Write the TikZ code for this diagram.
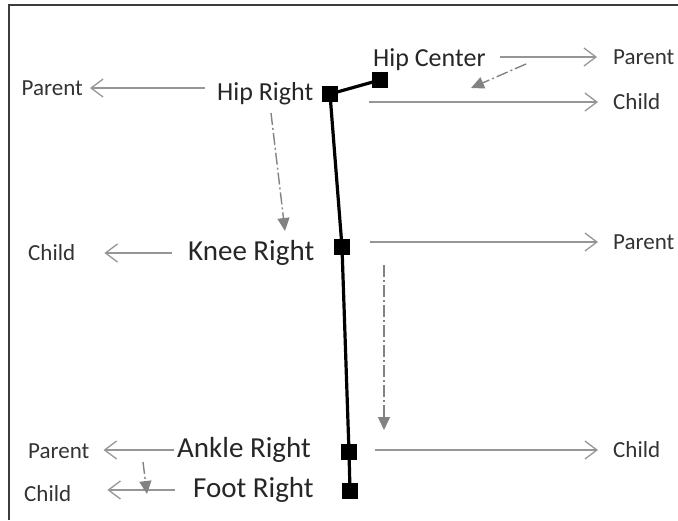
\documentclass[tikz,border=0pt]{standalone}
\usepackage{fontspec}
\setmainfont{Carlito}
\usetikzlibrary{arrows.meta,backgrounds}
\definecolor{lnk}{RGB}{150,150,150}
\definecolor{dsh}{RGB}{130,130,130}
\definecolor{frm}{RGB}{60,60,60}

\tikzset{
  joint/.style={rectangle,fill=black,minimum size=16pt,inner sep=0pt},
  bone/.style={line width=3.2pt,black},
  bigl/.style={inner sep=0pt,anchor=west,text=black!85,
               font=\fontsize{26}{30}\selectfont},
  hugel/.style={bigl,font=\fontsize{29}{34}\selectfont},
  tag/.style={inner sep=0pt,anchor=west,text=black!80,
              font=\fontsize{23}{27}\selectfont},
  link/.style={draw=lnk,line width=1.3pt,
               -{Straight Barb[length=12pt,width=18pt,line width=1.3pt]}},
  hint/.style={draw=dsh,line width=1.4pt,
               dash pattern=on 12pt off 3pt on 2pt off 3pt,
               -{Triangle[length=13pt,width=12pt]}}
}

\begin{document}
\begin{tikzpicture}[x=1pt,y=-1pt]
\useasboundingbox (0,0) rectangle (678,520);
\draw[frm,line width=1.5pt] (9,520) -- (9,5) -- (678,5);

% joints of the leg
\node[joint] (jhc) at (380,80) {};
\node[joint] (jhr) at (330,94) {};
\node[joint] (jkn) at (342,247) {};
\node[joint] (jan) at (349,452) {};
\node[joint] (jft) at (350,491) {};
\begin{scope}[on background layer]
\draw[bone] (jhc.center) -- (jhr.center) -- (jkn.center) -- (jan.center) -- (jft.center);
\end{scope}

% joint names
\node[bigl] (hipc) at (373,60) {Hip Center};
\node[bigl] (hipr) at (217,94) {Hip Right};
\node[hugel] (knee) at (188,253) {Knee Right};
\node[hugel] (ankle) at (177,450) {Ankle Right};
\node[hugel] (foot) at (193,490) {Foot Right};

% parent / child tags
\node[tag] (hcpar) at (613,57) {Parent};
\node[tag,anchor=east] (hrpar) at (83,88) {Parent};
\node[tag] (hrchd) at (613,102) {Child};
\node[tag] (knchd) at (28,253) {Child};
\node[tag] (knpar) at (613,242) {Parent};
\node[tag] (anpar) at (28,451) {Parent};
\node[tag] (anchd) at (613,450) {Child};
\node[tag] (ftchd) at (24,494) {Child};

% relations
\draw[link,shorten <=14pt,shorten >=16pt] (hipc.east |- hcpar.west) -- (hcpar.west);
\draw[link,shorten <=12pt,shorten >=7pt] (hrpar.east -| hipr.west) -- (hrpar.east);
\draw[link,shorten <=31pt,shorten >=15pt] (hrchd.west -| jhr.east) -- (hrchd.west);
\draw[link,shorten <=16pt,shorten >=29pt] (knee.west) -- (knee.west -| knchd.east);
\draw[link,shorten <=20pt,shorten >=15pt] (knpar.west -| jkn.east) -- (knpar.west);
\draw[link,shorten <=3pt,shorten >=14pt] (ankle.west) -- (ankle.west -| anpar.east);
\draw[link,shorten <=18pt,shorten >=15pt] (anchd.west -| jan.east) -- (anchd.west);
\draw[link,shorten <=18pt,shorten >=36pt] (foot.west) -- (foot.west -| ftchd.east);

% hand-over hints
\coordinate (h1s) at (526,64);  \coordinate (h1e) at (471,88);
\coordinate (h2s) at (271,113); \coordinate (h2e) at (285,231);
\coordinate (h3s) at (384,265); \coordinate (h3e) at (384,430);
\coordinate (h4s) at (143,462); \coordinate (h4e) at (147,494);
\draw[hint] (h1s) -- (h1e);
\draw[hint] (h2s) -- (h2e);
\draw[hint] (h3s) -- (h3e);
\draw[hint] (h4s) -- (h4e);
\end{tikzpicture}
\end{document}
